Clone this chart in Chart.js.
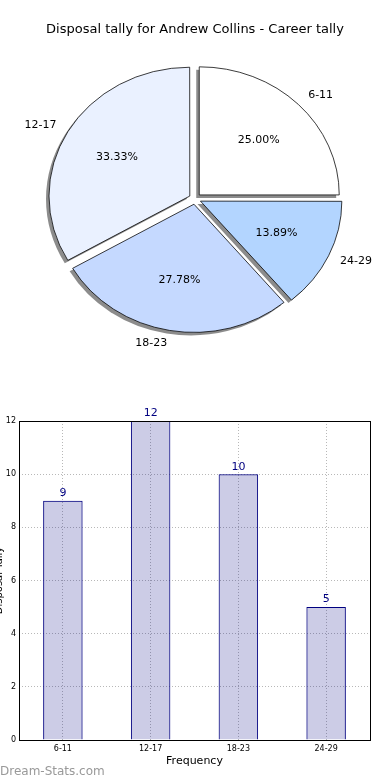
<!DOCTYPE html>
<html>
<head>
<meta charset="utf-8">
<script src="https://cdn.jsdelivr.net/npm/chart.js@4.4.0/dist/chart.umd.min.js"></script>
<style>
  html, body { margin: 0; padding: 0; background: #fff; }
  canvas { display: block; }
</style>
</head>
<body>
<canvas id="pie" width="390" height="370"></canvas>
<canvas id="bars" width="390" height="410"></canvas>
<script>
'use strict';

var chartTitle = 'Disposal tally for Andrew Collins - Career tally';
var categories = ['6-11', '12-17', '18-23', '24-29'];
var tallies = [9, 12, 10, 5];
var sliceColors = ['#ffffff', '#eaf1ff', '#c5d9ff', '#b3d5ff'];
// pie goes counter-clockwise from 3 o'clock in the original, so reorder for Chart.js
var pieOrder = [0, 3, 2, 1];
var yTicks = [0, 2, 4, 6, 8, 10, 12];
var xTitle = 'Frequency';
var yTitle = 'Disposal Tally';
var watermark = 'Dream-Stats.com';

var FONT = "'DejaVu Sans', sans-serif";
var SQUASH = 0.915;
var OFFSET_PX = 24;

Chart.defaults.font.family = FONT;
Chart.defaults.color = '#000';

var total = tallies.reduce(function(a, b) { return a + b; }, 0);

// ---- pie ----
var pieShadow = {
	id: 'pieShadow',
	beforeDatasetsDraw: function(chart) {
		var ctx = chart.ctx;
		var meta = chart.getDatasetMeta(0);
		var cx = meta.data[0].x, cy = meta.data[0].y;
		ctx.save();
		ctx.translate(cx, cy);
		ctx.scale(1, SQUASH);
		ctx.translate(-cx, -cy);
		// shadow pass
		meta.data.forEach(function(arc) {
			var o = arc.options;
			arc.options = Object.assign({}, o, {backgroundColor: 'rgba(0,0,0,0.45)', borderWidth: 0});
			ctx.save();
			ctx.translate(-3, 3 / SQUASH);
			arc.draw(ctx);
			ctx.restore();
			arc.options = o;
		});
	},
	afterDatasetsDraw: function(chart) {
		chart.ctx.restore();
	}
};

var pieLabels = {
	id: 'pieLabels',
	afterDatasetsDraw: function(chart) {
		var ctx = chart.ctx;
		var meta = chart.getDatasetMeta(0);
		var ds = chart.data.datasets[0];
		ctx.save();
		ctx.font = '11px ' + FONT;
		ctx.fillStyle = '#000';
		ctx.textBaseline = 'middle';
		meta.data.forEach(function(arc, i) {
			var p = arc.getProps(['x', 'y', 'startAngle', 'endAngle', 'outerRadius'], true);
			var mid = (p.startAngle + p.endAngle) / 2;
			var d = OFFSET_PX / 4;
			var c = Math.cos(mid), s = Math.sin(mid);
			var pct = (ds.data[i] / total * 100).toFixed(2) + '%';
			ctx.textAlign = 'center';
			ctx.fillText(pct, p.x + c * (d + 0.6 * p.outerRadius), p.y + s * (d + 0.6 * p.outerRadius) * SQUASH);
			ctx.textAlign = c >= 0 ? 'left' : 'right';
			ctx.fillText(chart.data.labels[i], p.x + c * (d + 1.1 * p.outerRadius), p.y + s * (d + 1.1 * p.outerRadius) * SQUASH);
		});
		ctx.restore();
	}
};

var pieChart = new Chart(document.getElementById('pie'), {
	type: 'pie',
	data: {
		labels: pieOrder.map(function(i) { return categories[i]; }),
		datasets: [{
			data: pieOrder.map(function(i) { return tallies[i]; }),
			backgroundColor: pieOrder.map(function(i) { return sliceColors[i]; }),
			borderColor: '#000',
			borderWidth: 0.8,
			offset: OFFSET_PX,
			radius: 140
		}]
	},
	options: {
		responsive: false,
		animation: false,
		devicePixelRatio: 1,
		rotation: 0,
		layout: { padding: { bottom: 22 } },
		plugins: {
			legend: { display: false },
			tooltip: { enabled: false },
			title: {
				display: true,
				text: chartTitle,
				color: '#000',
				font: { size: 13, weight: 'normal' },
				padding: { top: 22, bottom: 12 }
			}
		}
	},
	plugins: [pieShadow, pieLabels]
});

// ---- bars ----
var barExtras = {
	id: 'barExtras',
	afterDatasetsDraw: function(chart) {
		var ctx = chart.ctx;
		var a = chart.chartArea;
		ctx.save();
		ctx.strokeStyle = '#000';
		ctx.lineWidth = 1;
		ctx.strokeRect(Math.round(a.left) + 0.5, Math.round(a.top) + 0.5, Math.round(a.right - a.left), Math.round(a.bottom - a.top));

		ctx.font = '11px ' + FONT;
		ctx.fillStyle = '#000080';
		ctx.textAlign = 'center';
		ctx.textBaseline = 'bottom';
		chart.getDatasetMeta(0).data.forEach(function(bar, i) {
			ctx.fillText(String(chart.data.datasets[0].data[i]), bar.x, bar.y - 2);
		});

		// y title sits mostly off the left edge, as in the original
		ctx.fillStyle = '#000';
		ctx.font = '10px ' + FONT;
		ctx.translate(1.5, (a.top + a.bottom) / 2);
		ctx.rotate(-Math.PI / 2);
		ctx.textBaseline = 'alphabetic';
		ctx.fillText(yTitle, 0, 0);
		ctx.restore();

		ctx.save();
		ctx.font = '12px ' + FONT;
		ctx.fillStyle = '#999';
		ctx.textAlign = 'left';
		ctx.textBaseline = 'alphabetic';
		ctx.fillText(watermark, 0, 405);
		ctx.restore();
	}
};

var barChart = new Chart(document.getElementById('bars'), {
	type: 'bar',
	data: {
		labels: categories,
		datasets: [{
			data: tallies,
			backgroundColor: 'rgba(0,0,128,0.2)',
			borderColor: '#000080',
			borderWidth: 1,
			barPercentage: 0.45,
			categoryPercentage: 1
		}]
	},
	options: {
		responsive: false,
		animation: false,
		devicePixelRatio: 1,
		layout: { padding: { top: 51, right: 20, bottom: 12, left: 0 } },
		plugins: {
			legend: { display: false },
			tooltip: { enabled: false }
		},
		scales: {
			x: {
				grid: { offset: false, color: '#b8b8b8', drawTicks: false },
				border: { display: false, dash: [1, 2] },
				ticks: { font: { size: 8 }, color: '#000', padding: 4 },
				title: { display: true, text: xTitle, font: { size: 11 }, color: '#000', padding: { top: 2, bottom: 0 } },
				afterFit: function(s) { s.height = 28; }
			},
			y: {
				min: yTicks[0],
				max: yTicks[yTicks.length - 1],
				afterBuildTicks: function(s) { s.ticks = yTicks.map(function(v) { return { value: v }; }); },
				grid: { color: '#b8b8b8', drawTicks: false },
				border: { display: false, dash: [1, 2] },
				ticks: { font: { size: 8 }, color: '#000', padding: 3 },
				afterFit: function(s) { s.width = 19; }
			}
		}
	},
	plugins: [barExtras]
});
</script>
</body>
</html>
